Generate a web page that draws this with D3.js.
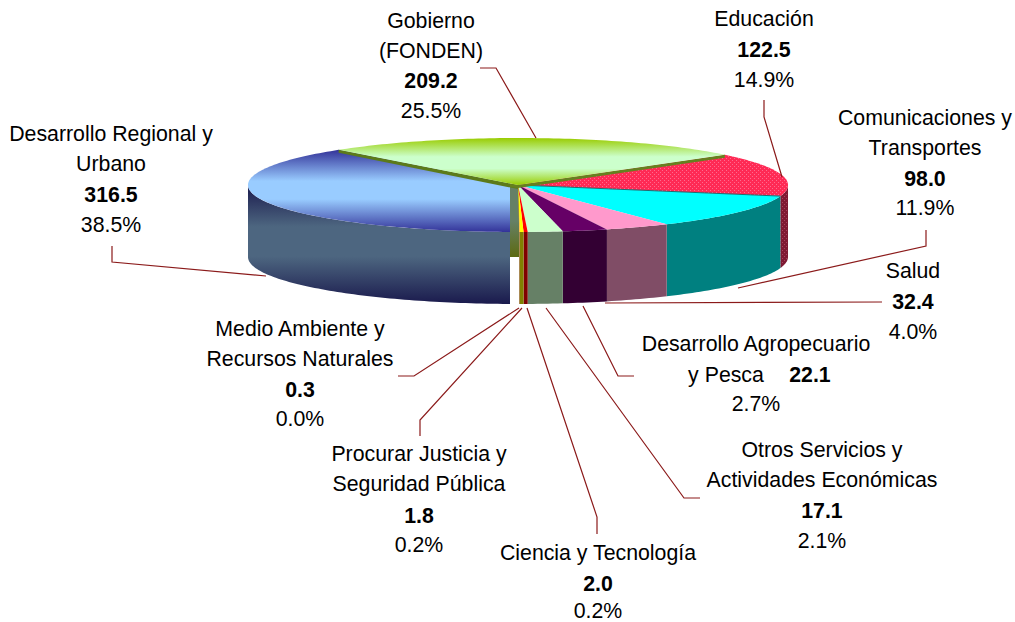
<!DOCTYPE html>
<html><head><meta charset="utf-8">
<script src="https://cdn.jsdelivr.net/npm/d3@7"></script>
<style>html,body{margin:0;padding:0;background:#fff}svg{display:block}text{font-family:"Liberation Sans",Arial,sans-serif;font-size:21.3px;fill:#000;text-anchor:middle}</style>
</head><body><div id="c"></div>
<script>
// Data
const categories=["Educación","Comunicaciones y Transportes","Salud","Desarrollo Agropecuario y Pesca","Otros Servicios y Actividades Económicas","Ciencia y Tecnología","Procurar Justicia y Seguridad Pública","Medio Ambiente y Recursos Naturales","Desarrollo Regional y Urbano","Gobierno (FONDEN)"];
const values=[122.5,98.0,32.4,22.1,17.1,2.0,1.8,0.3,316.5,209.2];
const shares=["14.9%","11.9%","4.0%","2.7%","2.1%","0.2%","0.2%","0.0%","38.5%","25.5%"];

// Styles
const topFill=["url(#eduTop)","#00ffff","#ff99cc","#660066","#ccffcc","#ff0000","#ffff00","#ff9900","url(#desTop)","url(#gobTop)"];
const sideFill=["url(#eduSide)","#008080","#804d66","#330033","#668066","#800000","#808000","#804d00","url(#desSide)","#5c7a1a"];

// Label layout: [centre x, [[text, bold, baseline y]...]]
const labelLayout=[
 [764,[["Educación",0,26],["122.5",1,57],["14.9%",0,87]]],
 [925,[["Comunicaciones y",0,125],["Transportes",0,155],["98.0",1,186],["11.9%",0,215]]],
 [913,[["Salud",0,278],["32.4",1,309],["4.0%",0,339]]],
 [756,[["Desarrollo Agropecuario",0,351],["y Pesca",0,382,726],["22.1",1,382,810],["2.7%",0,411]]],
 [822,[["Otros Servicios y",0,457],["Actividades Económicas",0,487],["17.1",1,518],["2.1%",0,548]]],
 [598,[["Ciencia y Tecnología",0,560],["2.0",1,591],["0.2%",0,618]]],
 [419,[["Procurar Justicia y",0,461],["Seguridad Pública",0,491],["1.8",1,523],["0.2%",0,552]]],
 [300,[["Medio Ambiente y",0,336],["Recursos Naturales",0,366],["0.3",1,397],["0.0%",0,426]]],
 [111,[["Desarrollo Regional y",0,141],["Urbano",0,171],["316.5",1,202],["38.5%",0,232]]],
 [431,[["Gobierno",0,28],["(FONDEN)",0,58],["209.2",1,88],["25.5%",0,118]]]
];
const leaderLayout=[
 [[764,100],[764,117],[782,177]],
 [[926,230],[926,246],[738,288]],
 [[605,303],[882,302]],
 [[634,376],[618,376],[583,306]],
 [[700,498],[684,498],[546,308]],
 [[597,534],[597,517],[527,308]],
 [[420,436],[420,420],[522,308]],
 [[398,376],[414,376],[519,308]],
 [[112,246],[112,262],[266,276]],
 [[480,68],[496,68],[536,138]]
];

const W=1015,H=622,cx=518,cy=185,rx=270,ry=47,depth=72,clipX=510,faceBottom=257;
const svg=d3.select("#c").append("svg").attr("width",W).attr("height",H);
const defs=svg.append("defs");
function grad(id,stops){const g=defs.append("linearGradient").attr("id",id).attr("x1",0).attr("x2",0).attr("y1",0).attr("y2",1);
 stops.forEach(s=>g.append("stop").attr("offset",s[0]).attr("stop-color",s[1]));}
grad("desTop",[[0,"#333399"],[.38,"#99ccff"],[.6,"#99ccff"],[1,"#333399"]]);
grad("desSide",[[0,"#1a1a4d"],[.35,"#4d6680"],[.6,"#4d6680"],[1,"#1a1a4d"]]);
grad("gobTop",[[0,"#99cc00"],[.4,"#ccffcc"],[.65,"#ccffcc"],[1,"#99cc00"]]);
grad("gobFace",[[0,"#668066"],[.5,"#668066"],[1,"#5c6a10"]]);
function pat(id,base,dot){const p=defs.append("pattern").attr("id",id).attr("width",4).attr("height",4).attr("patternUnits","userSpaceOnUse");
 p.append("rect").attr("width",4).attr("height",4).attr("fill",base);
 [[0,0],[2,2]].forEach(d=>p.append("rect").attr("x",d[0]).attr("y",d[1]).attr("width",1).attr("height",1).attr("fill",dot));}
pat("eduTop","#ff2a55","#ff6a8f");
pat("eduSide","#7f1a33","#a8445f");
defs.append("clipPath").attr("id","desClip").append("rect").attr("x",0).attr("y",0).attr("width",clipX).attr("height",H);

const pie=d3.pie().sort(null).startAngle(50*Math.PI/180).endAngle(410*Math.PI/180);
const arcs=pie(values);
const px=d3.scaleLinear().domain([-1,1]).range([cx-rx,cx+rx]);
const py=d3.scaleLinear().domain([-1,1]).range([cy-ry,cy+ry]);
const pt=(a,dy=0)=>[px(Math.sin(a)),py(-Math.cos(a))+dy];
function arcPts(a0,a1,dy=0){const n=Math.max(2,Math.ceil((a1-a0)/0.02));return d3.range(n+1).map(i=>pt(a0+(a1-a0)*i/n,dy));}
const line=d3.line();
const HALF=Math.PI/2;

// Side walls: only the front half of the rim is visible
const sides=svg.append("g");
arcs.forEach((d,i)=>{
 const a0=Math.max(d.startAngle,HALF),a1=Math.min(d.endAngle,3*HALF);
 if(a1<=a0)return;
 const pts=arcPts(a0,a1,0).concat(arcPts(a0,a1,depth).reverse());
 const p=sides.append("path").attr("d",line(pts)+"Z").attr("fill",sideFill[i]);
 if(i===8)p.attr("clip-path","url(#desClip)");
});

// Gobierno's radial wall seen in the gap
const gob=arcs[9];
svg.append("rect").attr("x",clipX).attr("y",cy).attr("width",cx-clipX+1).attr("height",faceBottom-cy).attr("fill","url(#gobFace)");

// Top faces
const tops=svg.append("g");
[8,0,1,2,3,4,5,6,7].forEach(i=>{
 const d=arcs[i];
 const pts=[[cx,cy]].concat(arcPts(d.startAngle,d.endAngle));
 const p=tops.append("path").attr("d",line(pts)+"Z").attr("fill",topFill[i]);
 if(i===8)p.attr("clip-path","url(#desClip)");
});
// Seam between Educación and Comunicaciones
const seam=pt(arcs[0].endAngle);
svg.append("path").attr("d",line([[cx,cy],seam])).attr("stroke","#1f6a70").attr("stroke-width",1).attr("fill","none");

// Gobierno: thin under-edges then the raised top face
const gs=pt(gob.startAngle),ge=pt(gob.endAngle);
svg.append("path").attr("d",line([gs,[cx,cy],[cx,cy+4],[gs[0],gs[1]+3]])+"Z").attr("fill","#5c7a1a");
svg.append("path").attr("d",line([ge,[cx,cy],[cx-8,cy-1],[cx-8,cy+2],[cx,cy+3],[ge[0],ge[1]+3]])+"Z").attr("fill","#66801f");
svg.append("path").attr("d",line([[cx,cy]].concat(arcPts(gob.startAngle,gob.endAngle)))+"Z").attr("fill",topFill[9]);

// Leader lines
svg.append("g").selectAll("path").data(leaderLayout).join("path")
 .attr("d",d=>line(d)).attr("fill","none").attr("stroke","#8b1a1a").attr("stroke-width",1.2);

// Labels
const lab=svg.append("g");
labelLayout.forEach(([x,rows])=>rows.forEach(r=>{
 lab.append("text").attr("x",r[3]||x).attr("y",r[2]).attr("font-weight",r[1]?"bold":"normal").text(r[0]);
}));
</script></body></html>
